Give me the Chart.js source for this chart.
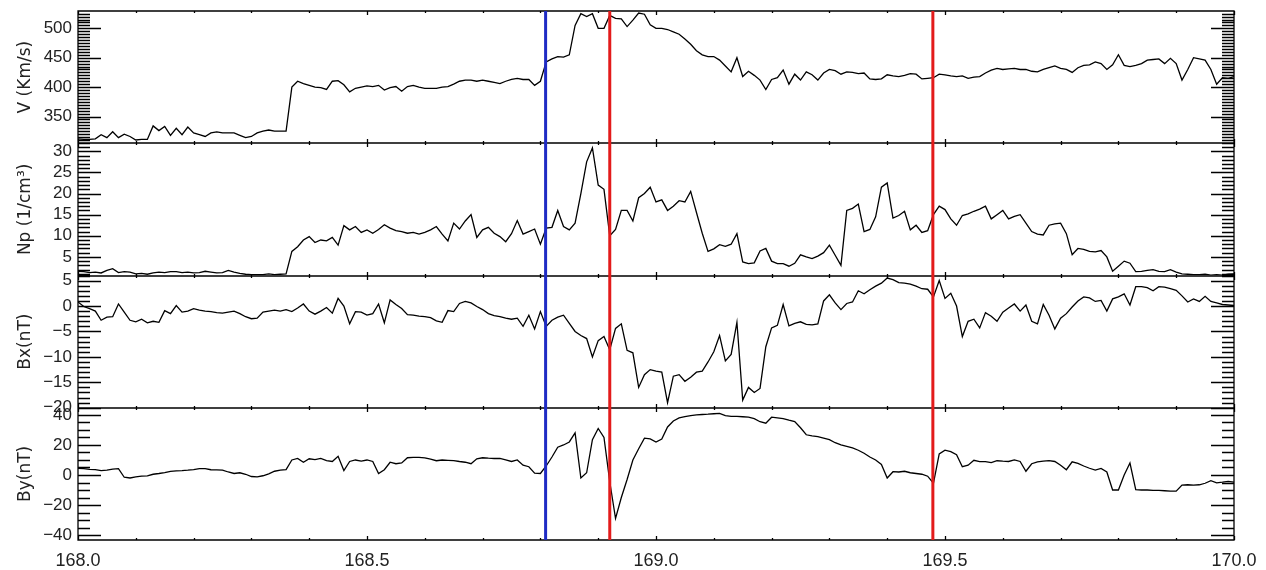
<!DOCTYPE html>
<html>
<head>
<meta charset="utf-8">
<script src="https://cdn.jsdelivr.net/npm/chart.js@4.4.1/dist/chart.umd.min.js"></script>
<style>
  html, body { margin: 0; padding: 0; background: #fff; }
  #wrap { width: 1266px; height: 570px; }
</style>
</head>
<body>
<div id="wrap"><canvas id="solarWind" width="1266" height="570"></canvas></div>
<script>
// Day of year (fractional)
const times = [
  168.00, 168.01, 168.02, 168.03, 168.04, 168.05, 168.06, 168.07, 168.08, 168.09,
  168.10, 168.11, 168.12, 168.13, 168.14, 168.15, 168.16, 168.17, 168.18, 168.19,
  168.20, 168.21, 168.22, 168.23, 168.24, 168.25, 168.26, 168.27, 168.28, 168.29,
  168.30, 168.31, 168.32, 168.33, 168.34, 168.35, 168.36, 168.37, 168.38, 168.39,
  168.40, 168.41, 168.42, 168.43, 168.44, 168.45, 168.46, 168.47, 168.48, 168.49,
  168.50, 168.51, 168.52, 168.53, 168.54, 168.55, 168.56, 168.57, 168.58, 168.59,
  168.60, 168.61, 168.62, 168.63, 168.64, 168.65, 168.66, 168.67, 168.68, 168.69,
  168.70, 168.71, 168.72, 168.73, 168.74, 168.75, 168.76, 168.77, 168.78, 168.79,
  168.80, 168.81, 168.82, 168.83, 168.84, 168.85, 168.86, 168.87, 168.88, 168.89,
  168.90, 168.91, 168.92, 168.93, 168.94, 168.95, 168.96, 168.97, 168.98, 168.99,
  169.00, 169.01, 169.02, 169.03, 169.04, 169.05, 169.06, 169.07, 169.08, 169.09,
  169.10, 169.11, 169.12, 169.13, 169.14, 169.15, 169.16, 169.17, 169.18, 169.19,
  169.20, 169.21, 169.22, 169.23, 169.24, 169.25, 169.26, 169.27, 169.28, 169.29,
  169.30, 169.31, 169.32, 169.33, 169.34, 169.35, 169.36, 169.37, 169.38, 169.39,
  169.40, 169.41, 169.42, 169.43, 169.44, 169.45, 169.46, 169.47, 169.48, 169.49,
  169.50, 169.51, 169.52, 169.53, 169.54, 169.55, 169.56, 169.57, 169.58, 169.59,
  169.60, 169.61, 169.62, 169.63, 169.64, 169.65, 169.66, 169.67, 169.68, 169.69,
  169.70, 169.71, 169.72, 169.73, 169.74, 169.75, 169.76, 169.77, 169.78, 169.79,
  169.80, 169.81, 169.82, 169.83, 169.84, 169.85, 169.86, 169.87, 169.88, 169.89,
  169.90, 169.91, 169.92, 169.93, 169.94, 169.95, 169.96, 169.97, 169.98, 169.99,
  170.00
];

// Solar wind speed V (Km/s)
const speed = [
  312, 311, 311, 312, 319, 314, 324, 314, 320, 316,
  310, 311, 311, 334, 326, 333, 318, 330, 319, 332,
  322, 319, 316, 322, 324, 322, 322, 322, 318, 314,
  316, 322, 325, 327, 325, 325, 325, 400, 410, 406,
  403, 400, 399, 396, 410, 411, 404, 392, 398, 400,
  402, 401, 403, 395, 399, 401, 393, 401, 403, 400,
  398, 398, 398, 400, 401, 405, 410, 412, 412, 410,
  412, 410, 408, 406, 410, 413, 415, 413, 413, 403,
  410, 443, 448, 452, 451, 455, 505, 525, 520, 525,
  500, 500, 522, 517, 516, 503, 514, 526, 524, 506,
  500, 500, 498, 494, 490, 482, 473, 462, 455, 452,
  452, 446, 436, 426, 450, 418, 427, 420, 412, 396,
  413, 416, 429, 405, 422, 412, 426, 421, 412, 424,
  430, 428, 422, 426, 425, 423, 424, 414, 413, 414,
  421, 419, 418, 420, 423, 422, 414, 415, 416, 422,
  421, 419, 418, 419, 415, 417, 418, 424, 429, 432,
  430, 431, 432, 430, 430, 427, 426, 430, 433, 436,
  432, 430, 425, 433, 437, 438, 443, 440, 430, 438,
  455, 437, 435, 437, 440, 446, 447, 448, 440, 449,
  440, 412, 430, 450, 448, 446, 430, 405, 416, 415,
  418
];

// Proton density Np (1/cm3)
const density = [
  1.6, 1.5, 1.3, 1.4, 1.2, 1.8, 2.2, 1.3, 1.5, 1.4,
  1.0, 1.1, 0.9, 1.2, 1.4, 1.3, 1.5, 1.5, 1.3, 1.4,
  1.2, 1.3, 1.6, 1.4, 1.2, 1.3, 1.8, 1.4, 1.1, 0.9,
  0.8, 0.8, 0.8, 1.0, 0.8, 0.9, 1.0, 6.3, 7.4, 9.0,
  9.8, 8.4, 9.0, 8.8, 9.6, 7.8, 12.4, 11.4, 12.2, 10.8,
  11.4, 10.6, 11.5, 12.6, 11.8, 11.2, 11.0, 10.6, 10.8, 10.4,
  10.8, 11.4, 12.2, 10.4, 8.8, 13.0, 11.6, 13.5, 15.0, 9.6,
  11.4, 12.0, 10.6, 9.8, 8.6, 10.5, 13.6, 10.4, 11.0, 11.6,
  8.0, 11.8, 12.0, 16.0, 12.2, 11.4, 13.0, 20.0, 27.5, 30.8,
  22.0, 21.0, 10.0, 11.5, 16.0, 16.0, 13.5, 19.0, 20.0, 21.5,
  18.0, 18.5, 16.0, 17.0, 18.3, 18.0, 20.5, 15.5, 10.6, 6.3,
  6.9, 7.9, 7.5, 8.0, 10.5, 3.8, 3.4, 3.6, 6.4, 7.0,
  4.0, 3.4, 3.4, 2.8, 3.5, 5.5, 5.0, 4.6, 5.2, 6.0,
  7.8, 5.4, 3.0, 16.0, 16.5, 17.5, 11.0, 11.5, 14.5, 21.5,
  22.5, 14.2, 14.8, 15.8, 11.4, 12.5, 10.8, 11.2, 15.0, 17.0,
  16.2, 14.0, 12.5, 14.8, 15.2, 15.8, 16.3, 17.0, 14.0, 15.0,
  16.0, 14.0, 14.6, 15.0, 13.0, 11.0, 10.4, 10.2, 12.5, 12.8,
  13.0, 10.5, 5.5, 7.0, 6.8, 6.3, 6.2, 6.5, 5.0, 1.6,
  2.8, 4.0, 3.5, 1.5, 1.6, 1.8, 2.0, 1.6, 1.5, 2.0,
  1.4, 1.0, 0.9, 0.8, 0.8, 0.9, 0.7, 0.8, 0.7, 0.9,
  1.0
];

// Magnetic field Bx (nT)
const bx = [
  0.8, -0.1, -0.5, -1.0, -2.8, -2.2, -2.1, 0.4, -1.2, -2.8,
  -3.1, -2.6, -3.3, -3.0, -3.2, -0.9, -1.5, 0.1, -1.2, -1.0,
  -0.5, -0.8, -1.0, -1.1, -1.3, -1.4, -1.2, -1.0, -1.5, -2.1,
  -2.5, -2.4, -1.2, -1.0, -0.8, -1.0, -0.7, -1.1, -0.4, 0.4,
  -1.0, -1.6, -1.0, -0.3, -1.4, 1.5, 0.0, -3.5, -1.1, -1.2,
  -1.8, -1.5, 0.4, -3.3, 1.2, 0.3, -0.5, -1.7, -1.8, -2.0,
  -2.1, -2.3, -2.9, -3.2, -0.9, -1.1, 0.5, 0.9, 0.6, -0.1,
  -0.7, -1.5, -1.9, -2.1, -2.4, -2.6, -2.4, -4.0, -1.8, -4.5,
  -1.1, -4.0, -2.8, -2.2, -1.8, -3.4, -5.0, -5.8, -6.4, -10.0,
  -6.8, -6.0, -8.6, -4.4, -3.5, -8.7, -9.2, -16.0, -13.5, -12.5,
  -12.8, -13.0, -19.0, -13.8, -13.5, -14.8, -14.0, -13.0, -12.8, -11.0,
  -9.0, -5.8, -10.8, -9.5, -3.2, -18.5, -16.0, -17.0, -16.2, -8.0,
  -4.3, -3.8, 0.3, -3.9, -3.4, -3.1, -3.6, -3.7, -3.5, 1.0,
  2.2, 0.6, -0.7, 0.5, 0.8, 3.0, 2.4, 3.2, 3.9, 4.5,
  5.5, 5.2, 4.6, 4.5, 4.3, 3.9, 3.4, 3.3, 1.8, 5.0,
  1.5, 2.5, 0.0, -6.0, -3.0, -2.6, -4.3, -1.3, -2.0, -3.0,
  -1.2, -0.4, 0.4, -1.0, 0.2, -3.0, -3.5, 0.3, -1.8, -4.5,
  -2.4, -1.5, -0.2, 1.0, 1.8, 1.6, 0.9, 1.1, -1.0, 1.4,
  1.8, 2.4, 0.2, 3.8, 3.8, 3.6, 3.0, 3.8, 3.7, 3.4,
  3.1, 2.0, 0.8, 1.4, 0.9, 1.9, 0.9, 0.6, 0.3, 0.2,
  0.1
];

// Magnetic field By (nT)
const by = [
  4.5, 4.2, 3.8, 3.6, 2.9, 3.2, 3.9, 4.2, -1.5, -2.0,
  -1.2, -0.8, -0.6, 0.5, 1.0, 1.6, 2.4, 2.8, 2.9, 3.2,
  3.6, 4.2, 4.3, 3.5, 3.4, 3.2, 2.0, 1.0, 1.5, 0.5,
  -1.0, -1.2, -0.5, 0.8, 2.5, 3.2, 3.6, 10.0, 11.0, 8.5,
  10.8, 10.2, 11.0, 9.6, 9.0, 12.5, 3.0, 9.0, 10.0, 9.2,
  10.0, 9.0, 1.0, 3.5, 8.5, 7.5, 8.0, 11.5, 11.8, 11.8,
  11.4, 10.5, 9.5, 10.0, 9.8, 9.6, 9.0, 8.5, 7.5, 10.8,
  11.5, 11.2, 11.0, 11.0, 10.0, 9.0, 10.0, 6.5, 5.5, 1.2,
  1.0, 6.0, 12.0, 18.5, 20.0, 22.0, 28.0, -2.0, 1.5, 23.5,
  31.0, 25.0, -4.5, -29.0, -15.0, -3.0, 10.0, 17.5, 24.5, 24.0,
  22.0, 24.0, 32.0, 36.0, 38.0, 38.9, 39.5, 40.0, 40.3, 40.5,
  40.8, 41.0, 39.5, 39.0, 39.0, 38.8, 38.5, 37.5, 35.5, 34.5,
  38.5, 38.0, 37.5, 36.5, 35.6, 31.5, 26.8, 26.0, 25.5, 24.5,
  23.5, 21.5, 20.0, 19.0, 18.0, 16.5, 14.5, 12.0, 10.0, 7.0,
  -2.0, 2.2, 2.0, 2.5, 1.5, 1.0, 0.5, -0.8, -5.5, 14.0,
  16.5, 15.5, 13.5, 5.5, 6.5, 9.8, 8.9, 8.9, 8.2, 9.5,
  9.2, 9.0, 10.0, 9.0, 2.5, 7.5, 8.8, 9.2, 9.6, 9.0,
  6.5, 3.5, 8.8, 7.8, 6.0, 4.5, 3.3, 4.4, 2.0, -10.0,
  -10.0, 0.0, 8.0, -9.8, -10.0, -10.0, -10.2, -10.3, -10.5, -10.8,
  -10.8, -6.7, -6.5, -6.8, -6.5, -5.5, -3.8, -5.2, -4.8, -4.3,
  -4.8
];

// Event markers (shock / boundaries)
const eventTimes = [168.809, 168.920, 169.479];
const eventColors = ["#1f2bc4", "#e31b1b", "#e31b1b"];

// Panel y ranges and tick spacing
const panelIds = ["v", "np", "bx", "by"];
const panelTitles = ["V (Km/s)", "Np (1/cm\u00b3)", "Bx(nT)", "By(nT)"];
const panelMin = [304.5, 0.6, -20, -43.3];
const panelMax = [529.5, 31.9, 6, 44.8];
const majorSteps = [50, 5, 5, 20];
const minorSteps = [5, 1, 1, 5];

const tickFont = { family: "'Liberation Sans', Arial, sans-serif", size: 17 };
const titleFont = { family: "'DejaVu Sans', sans-serif", size: 17 };
const textColor = "#222";

const minusSign = (v) => String(v).replace("-", "\u2212");

// IDL-style frame: panel boxes, inward ticks on all sides, event lines
const idlFrame = {
    id: "idlFrame",
    afterDatasetsDraw(chart) {
        const ctx = chart.ctx;
        const area = chart.chartArea;
        const xs = chart.scales.x;
        ctx.save();
        ctx.strokeStyle = "#000";
        ctx.lineWidth = 1.3;
        ctx.beginPath();
        panelIds.forEach((id, p) => {
            const s = chart.scales[id];
            const top = Math.round(s.top);
            const bottom = Math.round(s.bottom);
            ctx.rect(area.left, top, area.right - area.left, bottom - top);

            const step = minorSteps[p];
            for (let k = Math.ceil(s.min / step); k <= Math.floor(s.max / step); k++) {
                const v = k * step;
                const len = (v % majorSteps[p] === 0) ? 23 : 12;
                const y = Math.round(s.getPixelForValue(v)) + 0.5;
                ctx.moveTo(area.left, y); ctx.lineTo(area.left + len, y);
                ctx.moveTo(area.right, y); ctx.lineTo(area.right - len, y);
            }

            for (let k = 0; k <= 20; k++) {
                const x = Math.round(xs.getPixelForValue(xs.min + k * 0.1)) + 0.5;
                const len = (k % 5 === 0) ? 4 : 2;
                ctx.moveTo(x, top); ctx.lineTo(x, top + len);
                ctx.moveTo(x, bottom); ctx.lineTo(x, bottom - len);
            }
        });
        ctx.stroke();

        ctx.lineWidth = 3;
        eventTimes.forEach((t, i) => {
            const x = xs.getPixelForValue(t);
            ctx.strokeStyle = eventColors[i];
            ctx.beginPath();
            ctx.moveTo(x, area.top);
            ctx.lineTo(x, area.bottom);
            ctx.stroke();
        });
        ctx.restore();
    }
};

const seriesList = [speed, density, bx, by];

const scales = {
    x: {
        type: "linear",
        min: 168.0,
        max: 170.0,
        grid: { display: false, drawTicks: false },
        border: { display: false },
        ticks: {
            stepSize: 0.5,
            padding: 10,
            color: textColor,
            font: { family: "'Liberation Sans', Arial, sans-serif", size: 18 },
            callback: (v) => Number(v).toFixed(1)
        },
        afterFit: (scale) => {
            scale.height = 30;
            scale.paddingLeft = 0;
            scale.paddingRight = 0;
        }
    }
};

// stacked left axes; defined bottom panel first so V ends up on top
for (let p = panelIds.length - 1; p >= 0; p--) {
    scales[panelIds[p]] = {
        type: "linear",
        position: "left",
        stack: "panels",
        stackWeight: 1,
        min: panelMin[p],
        max: panelMax[p],
        grid: { display: false, drawTicks: false },
        border: { display: false },
        ticks: {
            stepSize: majorSteps[p],
            includeBounds: false,
            autoSkip: false,
            padding: 6,
            color: textColor,
            font: tickFont,
            callback: minusSign
        },
        title: {
            display: true,
            text: panelTitles[p],
            color: textColor,
            font: titleFont,
            padding: { top: 15, bottom: 0 }
        },
        afterFit: (scale) => {
            scale.width = 78;
            scale.paddingTop = 0;
            scale.paddingBottom = 0;
        }
    };
}

const ctx = document.getElementById("solarWind").getContext("2d");
new Chart(ctx, {
    type: "line",
    data: {
        datasets: seriesList.map((vals, p) => ({
            label: panelTitles[p],
            data: times.map((t, i) => ({ x: t, y: vals[i] })),
            yAxisID: panelIds[p],
            borderColor: "#000",
            borderWidth: 1.3,
            pointRadius: 0,
            tension: 0,
            fill: false
        }))
    },
    options: {
        responsive: false,
        animation: false,
        devicePixelRatio: 1,
        layout: { padding: { top: 11, right: 32, bottom: 0, left: 0 } },
        plugins: {
            legend: { display: false },
            tooltip: { enabled: false }
        },
        scales: scales
    },
    plugins: [idlFrame]
});
</script>
</body>
</html>
